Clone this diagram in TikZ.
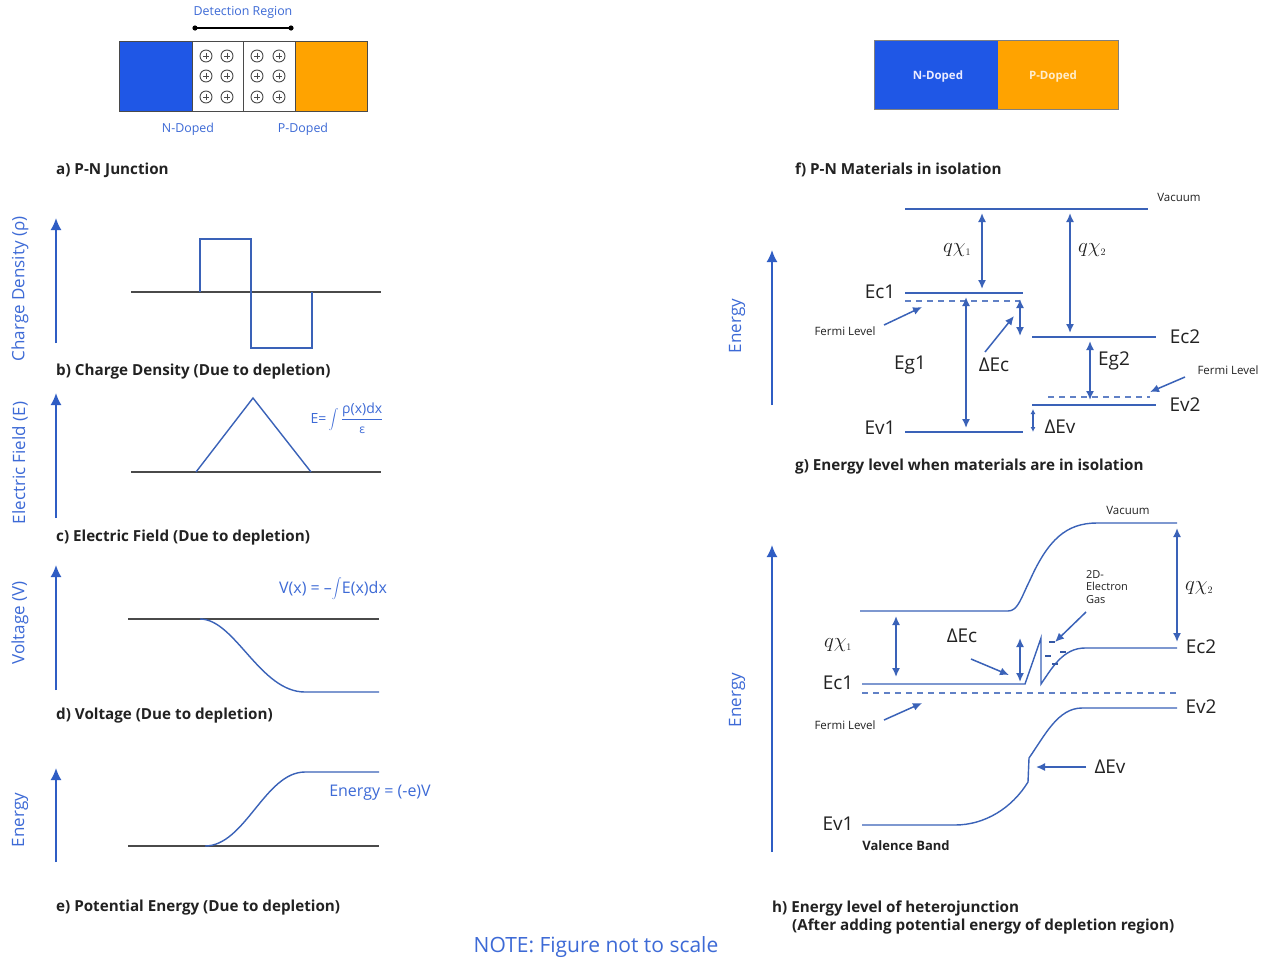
\documentclass[tikz,border=0pt]{standalone}
\usepackage{fontspec}
\setmainfont{Open Sans}
\usetikzlibrary{arrows.meta}
\definecolor{lineblue}{HTML}{3A62B8}
\definecolor{axisblue}{HTML}{2F5DC4}
\definecolor{textblue}{HTML}{3D6AD6}
\definecolor{ndoped}{HTML}{1F57E6}
\definecolor{pdoped}{HTML}{FFA300}
\definecolor{basegray}{HTML}{4A4A4A}
\definecolor{captext}{HTML}{222222}
\tikzset{
  plotline/.style={draw=lineblue, line width=1.4pt},
  baseline/.style={draw=basegray, line width=1.6pt},
  axis/.style={draw=axisblue, line width=1.8pt, -{Latex[length=12pt,width=11pt]}},
  dblarrow/.style={draw=lineblue, line width=1.6pt, {Latex[length=9pt,width=8pt]}-{Latex[length=9pt,width=8pt]}},
  pointer/.style={draw=lineblue, line width=1.5pt, -{Latex[length=9pt,width=8pt]}},
  fermi/.style={draw=lineblue!80, line width=1.4pt, dash pattern=on 6pt off 5pt},
  caption/.style={anchor=west, text=captext, font=\fontsize{15.2}{17}\selectfont\bfseries, inner sep=0pt},
  axlabel/.style={rotate=90, text=textblue, font=\fontsize{17}{19}\selectfont, inner sep=0pt},
  formula/.style={text=textblue, font=\fontsize{16}{18}\selectfont, inner sep=0pt},
  band/.style={text=captext, font=\fontsize{19}{21}\selectfont, inner sep=0pt},
  small/.style={text=captext, font=\fontsize{11.5}{13}\selectfont, inner sep=0pt},
  ion/.style={circle, draw=basegray, line width=0.9pt, minimum size=12pt, inner sep=0pt,
    path picture={\draw[basegray, line width=1pt] ([xshift=-3pt]path picture bounding box.center) -- ([xshift=3pt]path picture bounding box.center)
      ([yshift=-3pt]path picture bounding box.center) -- ([yshift=3pt]path picture bounding box.center);}},
}
\begin{document}
\begin{tikzpicture}[x=1pt,y=-1pt]
\useasboundingbox[fill=white] (0,0) rectangle (1265,962);

% ---------- a) P-N junction ----------
\node[formula, font=\fontsize{12.4}{14}\selectfont] (detlbl) at (243,12) {Detection Region};
\coordinate (detL) at (195,28);
\coordinate (detR) at (291,28);
\draw[black, line width=1.3pt] (detL) -- (detR);
\fill[black] (detL) circle (2.6pt) (detR) circle (2.6pt);
\fill[ndoped] (119,41) rectangle (192,111);
\fill[pdoped] (295,41) rectangle (367,111);
\draw[basegray, line width=1pt] (119,41) rectangle (367,111);
\draw[basegray, line width=1pt] (192,41) -- (192,111) (243,41) -- (243,111) (295,41) -- (295,111);
\foreach \cx/\cn in {206/a,227/b,257/c,279/d}{
  \foreach \cy/\rn in {56/1,76/2,97/3}{
    \node[ion] (ion\cn\rn) at (\cx,\cy) {};
  }
}
\node[formula, font=\fontsize{12.4}{14}\selectfont] (nlbl) at (188,129) {N-Doped};
\node[formula, font=\fontsize{12.4}{14}\selectfont] (plbl) at (303,129) {P-Doped};
\node[caption] (capa) at (56,170) {a) P-N Junction};

% ---------- b) charge density ----------
\coordinate (bax0) at (56,343);
\coordinate (bax1) at (56,218);
\draw[axis] (bax0) -- (bax1);
\node[axlabel] (blab) at (20,289) {Charge Density (ρ)};
\draw[baseline] (131,292) -- (381,292);
\draw[plotline] (200,292) -- (200,239) -- (251,239) -- (251,348) -- (312,348) -- (312,292);
\node[caption] (capb) at (56,372) {b) Charge Density (Due to depletion)};

% ---------- c) electric field ----------
\coordinate (cax0) at (56,518);
\coordinate (cax1) at (56,393);
\draw[axis] (cax0) -- (cax1);
\node[axlabel] (clab) at (20,463) {Electric Field (E)};
\draw[baseline] (131,472) -- (381,472);
\draw[plotline] (196,472) -- (253,398) -- (311,472);
\node[formula, font=\fontsize{14}{16}\selectfont] (cform) at (347,418) {E=\,$\displaystyle\int$\,$\displaystyle\frac{\mbox{ρ(x)dx}}{\mbox{\fontsize{12}{12}\selectfont ε}}$};
\node[caption] (capc) at (56,538) {c) Electric Field (Due to depletion)};

% ---------- d) voltage ----------
\coordinate (dax0) at (56,690);
\coordinate (dax1) at (56,565);
\draw[axis] (dax0) -- (dax1);
\node[axlabel] (dlab) at (20,623) {Voltage (V)};
\draw[baseline] (128,619) -- (379,619);
\draw[plotline] (200,619) .. controls (235,619) and (260,692) .. (305,692) -- (379,692);
\node[formula] (dform) at (333,589) {V(x) = –$\displaystyle\int$E(x)dx};
\node[caption] (capd) at (56,716) {d) Voltage (Due to depletion)};

% ---------- e) potential energy ----------
\coordinate (eax0) at (56,862);
\coordinate (eax1) at (56,768);
\draw[axis] (eax0) -- (eax1);
\node[axlabel] (elab) at (20,820) {Energy};
\draw[baseline] (128,846) -- (379,846);
\draw[plotline] (205,846) .. controls (245,846) and (265,772) .. (305,772) -- (379,772);
\node[formula] (eform) at (380,793) {Energy = (-e)V};
\node[caption] (cape) at (56,908) {e) Potential Energy (Due to depletion)};

\node[formula, font=\fontsize{21}{23}\selectfont] (note) at (596,947) {NOTE: Figure not to scale};

% ---------- f) materials in isolation ----------
\fill[ndoped] (874,40) rectangle (998,109);
\fill[pdoped] (998,40) rectangle (1118,109);
\draw[gray, line width=0.6pt] (874,40) rectangle (1118,109);
\node[text=white!92!blue, font=\fontsize{11.5}{13}\selectfont\bfseries] (fn) at (938,77) {N-Doped};
\node[text=white!80!pdoped, font=\fontsize{11.5}{13}\selectfont\bfseries] (fp) at (1053,77) {P-Doped};
\node[caption] (capf) at (795,170) {f) P-N Materials in isolation};

% ---------- g) energy levels in isolation ----------
\coordinate (gax0) at (772,405);
\coordinate (gax1) at (772,250);
\draw[axis] (gax0) -- (gax1);
\node[axlabel] (glab) at (737,326) {Energy};
\draw[plotline] (905,209) -- (1148,209);
\node[small] (gvac) at (1179,197) {Vacuum};
\draw[plotline] (905,293) -- (1023,293);
\draw[fermi] (905,301) -- (1020,301);
\draw[plotline] (905,432) -- (1023,432);
\draw[plotline] (1032,337) -- (1156,337);
\draw[fermi] (1048,397) -- (1150,397);
\draw[plotline] (1032,405) -- (1156,405);
\node[band] (gec1) at (880,292) {Ec1};
\node[band] (gev1) at (880,428) {Ev1};
\node[band] (gec2) at (1185,337) {Ec2};
\node[band] (gev2) at (1185,405) {Ev2};
% double arrows
\coordinate (gq1a) at (982,213);  \coordinate (gq1b) at (982,289);
\draw[dblarrow] (gq1a) -- (gq1b);
\node[band, font=\fontsize{20}{22}\selectfont] (gq1) at (957,250) {$q\chi_{\scriptscriptstyle 1}$};
\coordinate (gq2a) at (1070,213); \coordinate (gq2b) at (1070,333);
\draw[dblarrow] (gq2a) -- (gq2b);
\node[band, font=\fontsize{20}{22}\selectfont] (gq2) at (1092,250) {$q\chi_{\scriptscriptstyle 2}$};
\coordinate (geg1a) at (966,297); \coordinate (geg1b) at (966,428);
\draw[dblarrow] (geg1a) -- (geg1b);
\node[band] (geg1) at (910,365) {Eg1};
\coordinate (gdca) at (1020,299); \coordinate (gdcb) at (1020,336);
\draw[dblarrow] (gdca) -- (gdcb);
\node[band] (gdec) at (994,365) {ΔEc};
\coordinate (gdcp0) at (985,352); \coordinate (gdcp1) at (1014,316);
\draw[pointer] (gdcp0) -- (gdcp1);
\coordinate (geg2a) at (1090,341); \coordinate (geg2b) at (1090,400);
\draw[dblarrow] (geg2a) -- (geg2b);
\node[band] (geg2) at (1114,361) {Eg2};
\coordinate (gdva) at (1033,409); \coordinate (gdvb) at (1033,432);
\draw[draw=lineblue, line width=1.2pt, {Latex[length=5pt,width=5pt]}-{Latex[length=5pt,width=5pt]}] (gdva) -- (gdvb);
\node[band] (gdev) at (1060,427) {ΔEv};
\node[small] (gfl1) at (845,331) {Fermi Level};
\coordinate (gf1a) at (884,325); \coordinate (gf1b) at (922,307);
\draw[pointer] (gf1a) -- (gf1b);
\node[small] (gfl2) at (1228,370) {Fermi Level};
\coordinate (gf2a) at (1185,377); \coordinate (gf2b) at (1150,392);
\draw[pointer] (gf2a) -- (gf2b);
\node[caption] (capg) at (795,467) {g) Energy level when materials are in isolation};

% ---------- h) heterojunction ----------
\coordinate (hax0) at (772,852);
\coordinate (hax1) at (772,545);
\draw[axis] (hax0) -- (hax1);
\node[axlabel] (hlab) at (737,700) {Energy};
% vacuum level
\draw[plotline] (860,611) -- (1008,611) .. controls (1018,611) and (1021,598) .. (1030,580)
  .. controls (1048,540) and (1066,523) .. (1097,523) -- (1177,523);
\node[small] (hvac) at (1128,510) {Vacuum};
% conduction band with notch
\draw[plotline] (862,684) -- (1025,684) -- (1041,638) -- (1041,684)
  .. controls (1052,668) and (1063,648) .. (1085,648) -- (1177,648);
% fermi level
\draw[fermi] (862,693) -- (1177,693);
% valence band with step
\draw[plotline] (862,825) -- (955,825) .. controls (985,825) and (1012,808) .. (1028,782)
  -- (1029,758) .. controls (1045,735) and (1058,708) .. (1082,708) -- (1177,708);
% electrons of the 2D gas
\draw[lineblue!90!black, line width=1.3pt] (1049,642) -- (1055,642) (1045,656) -- (1051,656)
  (1060,652) -- (1066,652) (1052,664) -- (1058,664);
\node[band] (hec1) at (838,683) {Ec1};
\node[band] (hev1) at (838,824) {Ev1};
\node[band] (hec2) at (1201,647) {Ec2};
\node[band] (hev2) at (1201,707) {Ev2};
\node[text=captext, font=\fontsize{13}{15}\selectfont\bfseries, inner sep=0pt] (hvb) at (906,846) {Valence Band};
\coordinate (hq1a) at (896,616); \coordinate (hq1b) at (896,677);
\draw[dblarrow] (hq1a) -- (hq1b);
\node[band, font=\fontsize{20}{22}\selectfont] (hq1) at (838,645) {$q\chi_{\scriptscriptstyle 1}$};
\coordinate (hq2a) at (1177,528); \coordinate (hq2b) at (1177,642);
\draw[dblarrow] (hq2a) -- (hq2b);
\node[band, font=\fontsize{20}{22}\selectfont] (hq2) at (1199,588) {$q\chi_{\scriptscriptstyle 2}$};
\coordinate (hdca) at (1020,638); \coordinate (hdcb) at (1020,682);
\draw[dblarrow] (hdca) -- (hdcb);
\node[band] (hdec) at (962,636) {ΔEc};
\coordinate (hdcp0) at (971,659); \coordinate (hdcp1) at (1009,675);
\draw[pointer] (hdcp0) -- (hdcp1);
\node[small, align=left, font=\fontsize{11}{12.5}\selectfont] (h2deg) at (1107,587) {2D-\\Electron\\Gas};
\coordinate (h2p0) at (1086,612); \coordinate (h2p1) at (1055,642);
\draw[pointer] (h2p0) -- (h2p1);
\node[band] (hdev) at (1110,767) {ΔEv};
\coordinate (hdvp0) at (1086,767); \coordinate (hdvp1) at (1036,767);
\draw[pointer] (hdvp0) -- (hdvp1);
\node[small] (hfl) at (845,725) {Fermi Level};
\coordinate (hfa) at (884,720); \coordinate (hfb) at (922,703);
\draw[pointer] (hfa) -- (hfb);
\node[caption] (caph1) at (772,908) {h) Energy level of heterojunction};
\node[caption] (caph2) at (792,926) {(After adding potential energy of depletion region)};
\end{tikzpicture}
\end{document}
